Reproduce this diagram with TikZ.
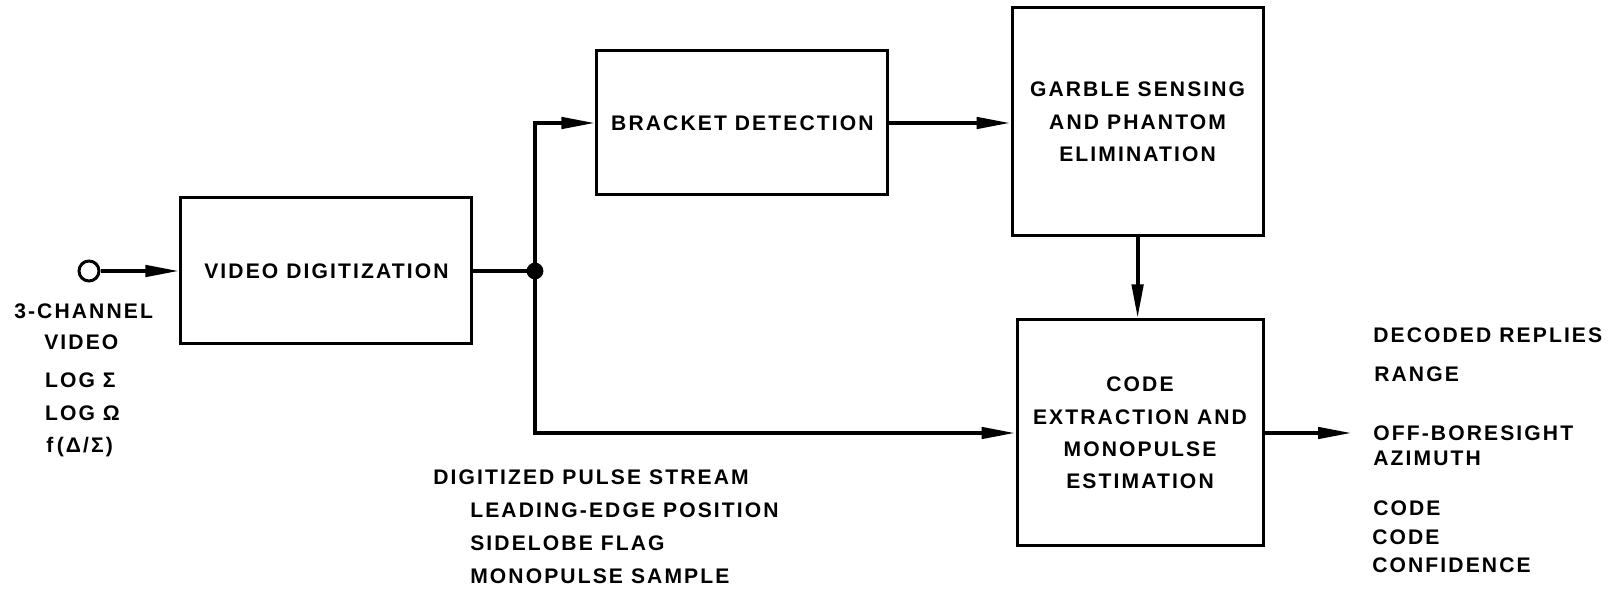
\documentclass[tikz,border=0pt]{standalone}
\usepackage{fontspec}
\setmainfont{Liberation Sans}[LetterSpace=10]
\usetikzlibrary{arrows.meta}

\begin{document}
\begin{tikzpicture}[
  block/.style={rectangle, draw, line width=0.075cm, align=center},
  txt/.style={anchor=base west, inner sep=0},
  wire/.style={line width=0.1cm},
  flow/.style={wire, -{Triangle[length=0.85cm, width=0.28cm]}},
  font=\fontsize{15}{23}\selectfont\bfseries]
\useasboundingbox (0,0) rectangle (40.4,14.775);
\draw (8.16,8.0) node(video) [block, minimum width=7.275cm, minimum height=3.65cm] {VIDEO DIGITIZATION};
\draw (18.56,11.7) node(bracket) [block, minimum width=7.275cm, minimum height=3.6cm] {BRACKET DETECTION};
\draw (28.44,11.725) node(garble) [block, minimum width=6.275cm, minimum height=5.7cm] {GARBLE SENSING\\AND PHANTOM\\ELIMINATION};
\draw (28.5,3.95) node(code) [block, minimum width=6.15cm, minimum height=5.65cm] {CODE\\EXTRACTION AND\\MONOPULSE\\ESTIMATION};
\draw (2.225,8.0) node(input) [circle, draw, line width=0.075cm, inner sep=0, minimum size=0.5cm] {};
\draw (13.375,8.0) node(split) [circle, fill, inner sep=0, minimum size=0.42cm] {};
\coordinate (out) at (33.8,3.95);

\draw[flow] (input) -- (video.west);
\draw[wire] (video.east) -- (split.center);
\draw[flow] (split.center) |- (bracket.west);
\draw[flow] (split.center) |- (code.west);
\draw[flow] (bracket.east) -- (garble.west |- bracket.east);
\draw[flow] (garble.south) -- (garble.south |- code.north);
\draw[flow] (code.east) -- (out);

\draw (0.35,6.81) node(channels) [txt] {3-CHANNEL};
\draw (1.1,6.04) node(videoin) [txt] {VIDEO};
\draw (1.12,5.09) node(logsum) [txt] {LOG Σ};
\draw (1.12,4.26) node(logomega) [txt] {LOG Ω};
\draw (1.15,3.46) node(ratio) [txt] {f\,(Δ/Σ)};

\draw (10.825,2.6625) node(stream) [txt] {DIGITIZED PULSE STREAM};
\draw (11.75,1.8375) node(edge) [txt] {LEADING-EDGE POSITION};
\draw (11.75,1.0125) node(sidelobe) [txt] {SIDELOBE FLAG};
\draw (11.75,0.1875) node(sample) [txt] {MONOPULSE SAMPLE};

\draw (34.325,6.2125) node(replies) [txt] {DECODED REPLIES};
\draw (34.35,5.2375) node(range) [txt] {RANGE};
\draw (34.325,3.7625) node(offbore) [txt] {OFF-BORESIGHT};
\draw (34.325,3.1375) node(azimuth) [txt] {AZIMUTH};
\draw (34.325,1.8875) node(codeout) [txt] {CODE};
\draw (34.3,1.1625) node(codeconf) [txt] {CODE};
\draw (34.3,0.4625) node(confidence) [txt] {CONFIDENCE};
\end{tikzpicture}
\end{document}
